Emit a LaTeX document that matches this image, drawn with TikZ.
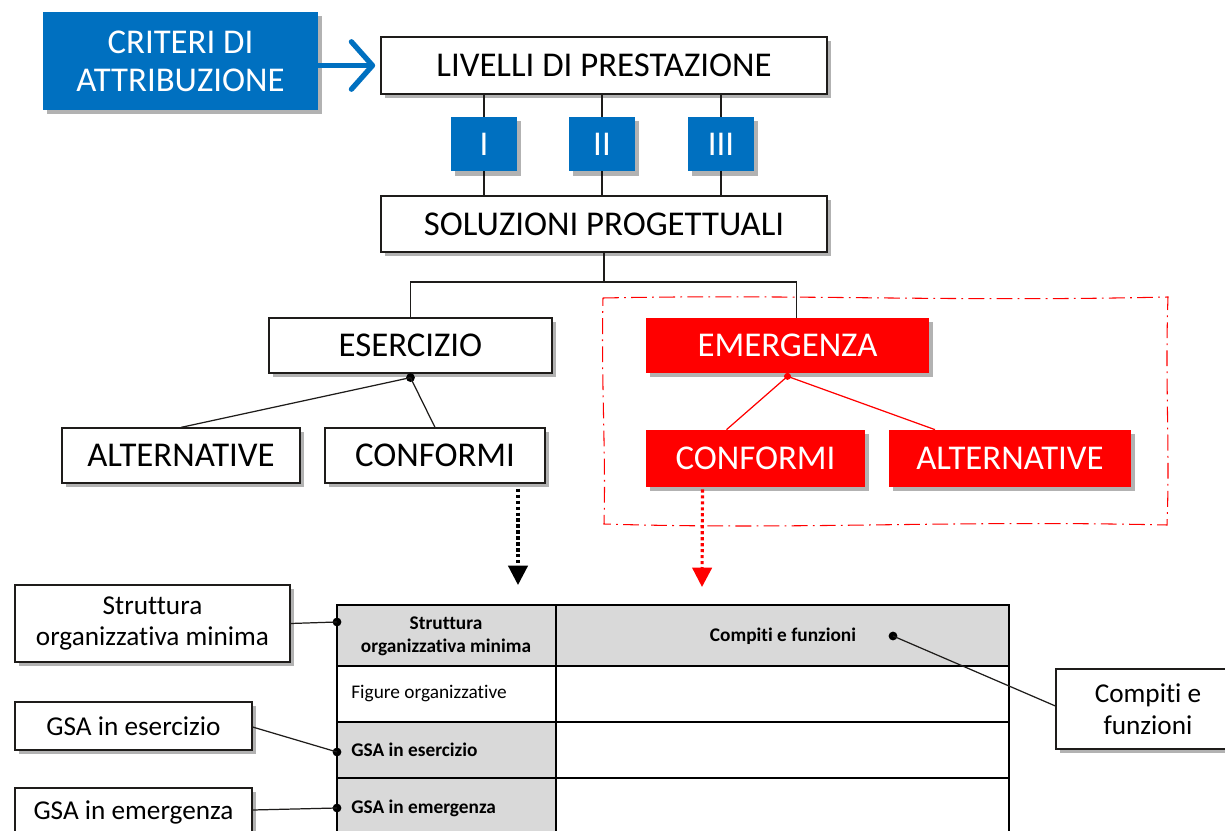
\documentclass[tikz,border=0pt]{standalone}
\usepackage{fontspec}
\setmainfont[Ligatures=NoCommon]{Carlito}
\usetikzlibrary{calc,arrows.meta,positioning,shadows,backgrounds}
\definecolor{critblue}{HTML}{0070C0}
\definecolor{emred}{HTML}{FF0000}
\definecolor{cellgray}{HTML}{D9D9D9}
\definecolor{ink}{HTML}{1E1C1A}

\tikzset{
	shadowed/.style={drop shadow={shadow xshift=2.5pt, shadow yshift=-2.5pt, opacity=0.3, fill=black}},
	bigtext/.style={font=\fontsize{19.8}{21.5}\selectfont},
	whitebox/.style={shadowed, draw=ink, line width=0.7pt, fill=white, bigtext, inner sep=0pt},
	bluebox/.style={shadowed, fill=critblue, text=white, bigtext, inner sep=0pt, align=center},
	redbox/.style={shadowed, fill=emred, text=white, bigtext, inner sep=0pt},
	callout/.style={shadowed, draw=ink, line width=0.7pt, fill=white, inner sep=0pt, align=center,
		font=\fontsize{15.5}{18}\selectfont},
	celltext/.style={inner sep=0pt, font=\fontsize{11}{13}\selectfont},
	cellbold/.style={celltext, font=\fontsize{11}{13}\selectfont\bfseries},
	tiedot/.style={circle, fill=black, inner sep=0pt, minimum size=5pt},
	link/.style={ink, line width=0.7pt},
	pointer/.style={line width=1.8pt, dash pattern=on 1.8pt off 1.6pt, -{Triangle[length=11pt, width=11pt]}},
}

\begin{document}
\begin{tikzpicture}[x=0.02cm, y=-0.02cm]
	\clip (0,0) rectangle (1225,831);
	\fill[white] (0,0) rectangle (1225,831);

	% Upper chain
	\node[bluebox, minimum width=5.5cm, minimum height=1.96cm] (crit) at (180.5,61) {CRITERI DI\\ATTRIBUZIONE};
	\node[whitebox, minimum width=8.92cm, minimum height=1.14cm] (liv) at (604,65.5) {LIVELLI DI PRESTAZIONE};
	\node[whitebox, minimum width=8.92cm, minimum height=1.12cm] (sol) at (604,224) {SOLUZIONI PROGETTUALI};
	\draw[critblue, line width=3pt, line cap=round, -{Straight Barb[length=12pt, width=27pt, round]}, shorten >=3pt]
		(crit.east |- liv.west) -- (liv.west);

	% Performance levels
	\foreach \lx/\lab/\nm in {484/I/lvA, 602/II/lvB, 721/III/lvC}{
		\draw[link] (liv.south -| \lx,0) -- (sol.north -| \lx,0);
		\node[bluebox, minimum width=1.32cm, minimum height=1.1cm] (\nm) at (\lx,144) {\lab};
	}

	% Branches
	\node[whitebox, minimum width=5.66cm, minimum height=1.1cm] (eser) at (410.5,345.5) {ESERCIZIO};
	\node[redbox, minimum width=5.66cm, minimum height=1.1cm] (emer) at (787.5,345.5) {EMERGENZA};
	\coordinate (split) at (604,282);
	\draw[link] (sol.south) -- (split);
	\draw[link] (eser.north) |- (split) -| ($(emer.north)+(9,0)$);

	\node[whitebox, minimum width=4.76cm, minimum height=1.1cm] (altE) at (181,455.5) {ALTERNATIVE};
	\node[whitebox, minimum width=4.4cm, minimum height=1.1cm] (confE) at (435,455.5) {CONFORMI};
	\node[redbox, minimum width=4.38cm, minimum height=1.14cm] (confR) at (755.5,458.5) {CONFORMI};
	\node[redbox, minimum width=4.84cm, minimum height=1.14cm] (altR) at (1010,458.5) {ALTERNATIVE};

	\node[tiedot] (eserdot) at ($(eser.south)+(0,4)$) {};
	\draw[link] (eserdot.center) -- (altE.north);
	\draw[link] (eserdot.center) -- (confE.north);
	\node[tiedot, fill=emred, minimum size=4pt] (emerdot) at ($(emer.south)+(0,3)$) {};
	\draw[emred, line width=0.7pt] (emerdot.center) -- ($(confR.north)+(-29,0)$);
	\draw[emred, line width=0.7pt] (emerdot.center) -- ($(altR.north)+(-75,0)$);

	% Emergency frame
	\draw[emred, line width=0.6pt, dash pattern=on 9pt off 3pt on 1pt off 3pt]
		(603,298) .. controls (800,294) and (950,302) .. (1168,297)
		.. controls (1165,380) and (1170,450) .. (1167,525)
		.. controls (950,520) and (800,530) .. (604,524)
		.. controls (606,450) and (601,380) .. cycle;

	% Dotted pointers to the table
	\coordinate (tabE) at (518,585);
	\coordinate (tabR) at (702,587);
	\draw[pointer, black] ($(confE.south)+(83,5)$) -- (tabE);
	\draw[pointer, emred] ($(confR.south)+(-53,2)$) -- (tabR);

	% Table
	\fill[cellgray] (337,605) rectangle (1009,666);
	\fill[cellgray] (337,722) rectangle (556,840);
	\foreach \ry in {666,722,778}{
		\draw[black, line width=0.8pt] (337,\ry) -- (1009,\ry);
	}
	\draw[black, line width=0.8pt] (556,605) -- (556,840);
	\draw[black, line width=1pt] (337,840) -- (337,605) -- (1009,605) -- (1009,840);
	\node[cellbold, align=center] (hStr) at (446,636) {Struttura\\organizzativa minima};
	\node[cellbold] (hCom) at (783,636) {Compiti e funzioni};
	\node[celltext, anchor=west] (rFig) at (351,694) {Figure organizzative};
	\node[cellbold, anchor=west] (rEse) at (351,750) {GSA in esercizio};
	\node[cellbold, anchor=west] (rEme) at (351,808) {GSA in emergenza};

	% Callouts
	\node[callout, minimum width=5.5cm, minimum height=1.54cm] (cStr) at (152.5,623.5) {Struttura\\organizzativa minima};
	\node[callout, minimum width=4.74cm, minimum height=0.96cm] (cEse) at (133.5,726) {GSA in esercizio};
	\node[callout, minimum width=4.74cm, minimum height=0.96cm] (cEme) at (133.5,812) {GSA in emergenza};
	\node[callout, minimum width=3.68cm, minimum height=1.6cm] (cCom) at (1148,709) {Compiti e\\funzioni};

	\node[tiedot] (pStr) at (337,622) {};
	\node[tiedot] (pEse) at (337,752) {};
	\node[tiedot] (pEme) at (337,808) {};
	\node[tiedot] (pCom) at (893,636) {};
	\draw[link] (cStr.east) -- (pStr.center);
	\draw[link] ($(cEse.east)+(0,1)$) -- (pEse.center);
	\draw[link] ($(cEme.east)+(0,-2)$) -- (pEme.center);
	\draw[link] ($(cCom.west)+(0,-3)$) -- (pCom.center);
\end{tikzpicture}
\end{document}
